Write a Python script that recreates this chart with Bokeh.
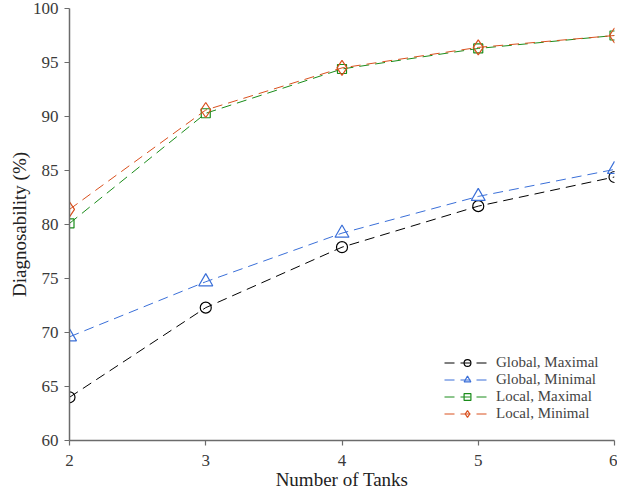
from bokeh.plotting import figure
from bokeh.embed import file_html
from bokeh.resources import INLINE
from bokeh.models import Range1d, FixedTicker, Legend, LegendItem

tanks = [2, 3, 4, 5, 6]
global_max = [64.0, 72.3, 77.9, 81.7, 84.4]
global_min = [69.6, 74.7, 79.2, 82.6, 85.1]
local_max = [80.1, 90.3, 94.4, 96.3, 97.5]
local_min = [81.4, 90.6, 94.5, 96.4, 97.5]

series = [
    ("Global, Maximal", global_max, "#000000", "circle", 11),
    ("Global, Minimal", global_min, "#3a6fd8", "triangle", 14),
    ("Local, Maximal", local_max, "#1a8c1a", "square", 9),
    ("Local, Minimal", local_min, "#d9501e", "diamond", 15),
]

FONT = "Liberation Serif"

p = figure(width=617, height=492, output_backend="svg", toolbar_location=None,
           x_range=Range1d(2, 6), y_range=Range1d(60, 100),
           min_border_left=69, min_border_right=3, min_border_top=8, min_border_bottom=50)
p.outline_line_color = None
p.xgrid.visible = False
p.ygrid.visible = False
p.background_fill_color = "white"

for ax in (p.xaxis[0], p.yaxis[0]):
    ax.axis_line_color = "#6b6b6b"
    ax.axis_line_width = 1.5
    ax.major_tick_line_color = "#6b6b6b"
    ax.major_tick_line_width = 1.2
    ax.major_tick_out = 5
    ax.major_tick_in = 0
    ax.minor_tick_line_color = None
    ax.major_label_text_font = FONT
    ax.major_label_text_font_size = "17px"
    ax.major_label_text_color = "#3a3a3a"
    ax.axis_label_text_font = FONT
    ax.axis_label_text_font_size = "19px"
    ax.axis_label_text_font_style = "normal"
    ax.axis_label_text_color = "#222222"

p.xaxis.ticker = FixedTicker(ticks=tanks)
p.yaxis.ticker = FixedTicker(ticks=[60, 65, 70, 75, 80, 85, 90, 95, 100])
p.xaxis.axis_label = "Number of Tanks"
p.yaxis.axis_label = "Diagnosability (%)"
p.xaxis.major_label_standoff = 9
p.yaxis.major_label_standoff = 6
p.xaxis.axis_label_standoff = 0
p.yaxis.axis_label_standoff = 0

items = []
for name, vals, color, marker, size in series:
    l = p.line(tanks, vals, line_color=color, line_width=1, line_dash="10 6")
    s = p.scatter(tanks, vals, marker=marker, size=size, line_color=color,
                  fill_color=None, line_width=1.2)
    items.append(LegendItem(label=name, renderers=[l, s]))

legend = Legend(items=items, location=(375, 18), border_line_color=None,
                background_fill_alpha=0, glyph_width=46, glyph_height=17,
                label_height=17, spacing=0, padding=4, margin=0,
                label_text_font=FONT, label_text_font_size="15px",
                label_standoff=6)
p.add_layout(legend, "center")

open("out.html", "w").write(file_html(p, INLINE))
